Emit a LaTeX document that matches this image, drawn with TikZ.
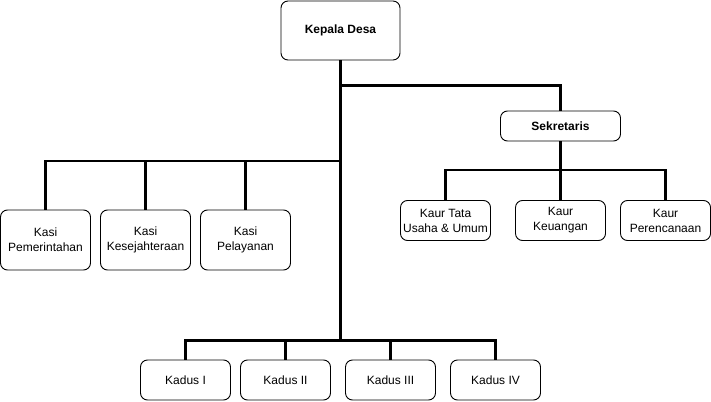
\documentclass[tikz,border=0pt]{standalone}
\usepackage{fontspec}
\setmainfont{Liberation Sans}
\usepackage{tikz}

\tikzset{
  box/.style={draw=black,line width=0.9pt,rounded corners=7pt,fill=white,
    align=center,inner sep=1pt,font=\fontsize{12}{15}\selectfont},
  link/.style={draw=black,line width=2.2pt},
  trunk/.style={draw=black,line width=3.6pt}
}

\begin{document}
\begin{tikzpicture}[x=1pt,y=-1pt]
\useasboundingbox (0,0) rectangle (711,401);

\coordinate (sekbus) at (340.5,85.5);
\coordinate (kasibus) at (340.5,161);
\coordinate (kadusbus) at (340.5,340.5);
\coordinate (kaurbus) at (560.5,170);

\node[box,minimum width=119pt,minimum height=59pt,font=\fontsize{12}{15}\selectfont\bfseries] (kepala) at (340.5,30.5) {Kepala Desa};
\node[box,minimum width=120pt,minimum height=30pt,font=\fontsize{12}{15}\selectfont\bfseries] (sekretaris) at (560.5,126) {Sekretaris};

\node[box,minimum width=90pt,minimum height=60pt] (kasi1) at (45.5,240) {Kasi\\Pemerintahan};
\node[box,minimum width=90pt,minimum height=60pt] (kasi2) at (145.5,240) {Kasi\\Kesejahteraan};
\node[box,minimum width=90pt,minimum height=60pt] (kasi3) at (245.5,240) {Kasi\\Pelayanan};

\node[box,minimum width=90pt,minimum height=40pt] (kaur1) at (445.5,220.5) {Kaur Tata\\Usaha \& Umum};
\node[box,minimum width=90pt,minimum height=40pt] (kaur2) at (560.5,220.5) {Kaur\\Keuangan};
\node[box,minimum width=90pt,minimum height=40pt] (kaur3) at (665.5,220.5) {Kaur\\Perencanaan};

\node[box,minimum width=90pt,minimum height=40pt] (kadus1) at (185.5,380) {Kadus I};
\node[box,minimum width=90pt,minimum height=40pt] (kadus2) at (285.5,380) {Kadus II};
\node[box,minimum width=90pt,minimum height=40pt] (kadus3) at (390.5,380) {Kadus III};
\node[box,minimum width=90pt,minimum height=40pt] (kadus4) at (495.5,380) {Kadus IV};

% garis dari kepala desa
\draw[trunk] (kepala.south) -- (kasibus);
\draw[link] (kasibus) -- (kadusbus);
\draw[link] (sekbus) -| (sekretaris.north);
\foreach \i in {1,2,3}
  \draw[link] (kasibus) -| (kasi\i.north);
\foreach \i in {1,2,3,4}
  \draw[link] (kadusbus) -| (kadus\i.north);

% garis dari sekretaris
\draw[link] (sekretaris.south) -- (kaurbus);
\foreach \i in {1,2,3}
  \draw[link] (kaurbus) -| (kaur\i.north);

\end{tikzpicture}
\end{document}
